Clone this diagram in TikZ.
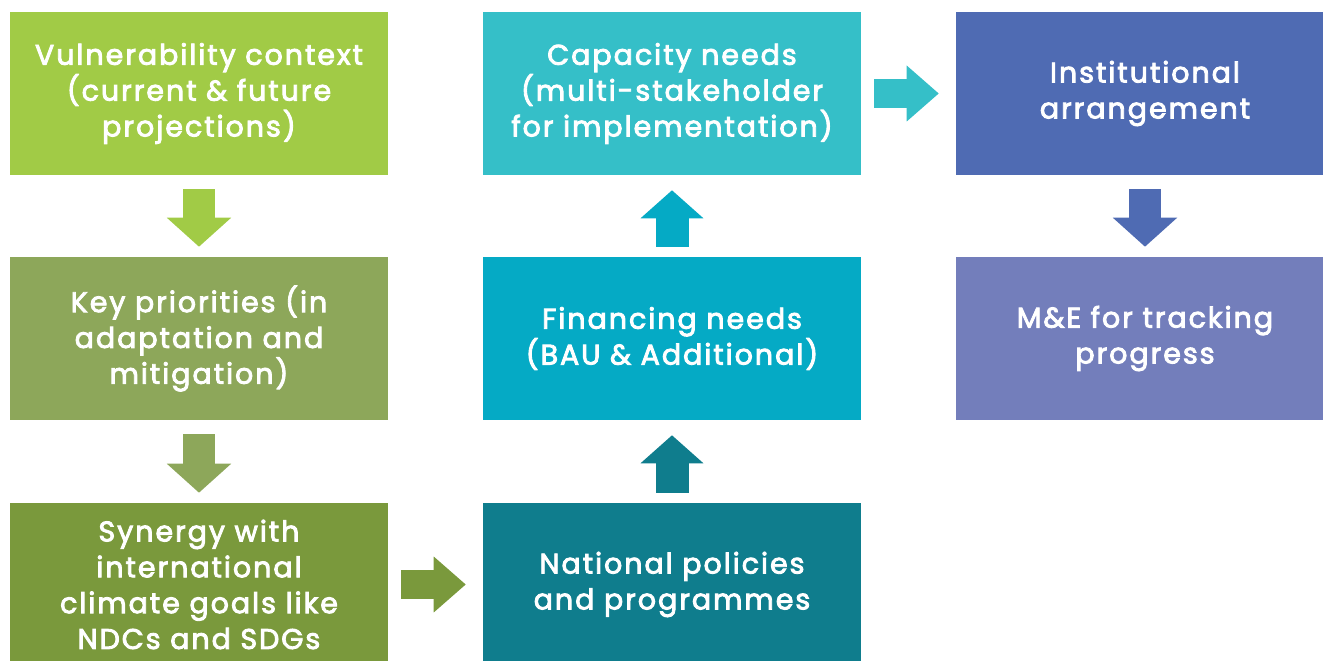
\documentclass[tikz,border=0pt]{standalone}
\usepackage{fontspec}
\newfontfamily\boxfont{Poppins}[FakeBold=3,LetterSpace=7]
\usepackage{xcolor}
\usepackage{tikz}
\usetikzlibrary{arrows.meta}

\definecolor{vulngreen}{HTML}{A1CB46}
\definecolor{prioritygreen}{HTML}{8DA75A}
\definecolor{synergygreen}{HTML}{7A993C}
\definecolor{capacityteal}{HTML}{35BFC8}
\definecolor{financeteal}{HTML}{05AAC5}
\definecolor{policyteal}{HTML}{0F7D8D}
\definecolor{institutionblue}{HTML}{4F6BB3}
\definecolor{trackingblue}{HTML}{737EBB}

\begin{document}
\begin{tikzpicture}[x=0.02cm,y=-0.02cm,
  box/.style={fill=#1, text=white, minimum width=7.56cm, minimum height=3.26cm,
    inner sep=0pt, align=center, font=\boxfont\fontsize{16.2}{20.4}\selectfont},
  downflow/.style={draw=#1, line width=0.65cm, shorten <=0.28cm, shorten >=0.2cm,
    -{Triangle[length=0.58cm,width=1.29cm,line width=0pt]}},
  upflow/.style={draw=#1, line width=0.66cm, shorten <=0.2cm, shorten >=0.3cm,
    -{Triangle[length=0.56cm,width=1.26cm,line width=0pt]}},
  rightflow/.style={draw=#1, line width=0.58cm, shorten <=0.26cm, shorten >=0.34cm,
    -{Triangle[length=0.64cm,width=1.12cm,line width=0pt]}}]

\useasboundingbox (0,0) rectangle (1323,661);

% left column
\node[box=vulngreen] (vuln) at (199,93.5) {Vulnerability context\\(current \& future\\projections)};
\node[box=prioritygreen] (prio) at (199,338.5) {Key priorities (in\\adaptation and\\mitigation)};
\node[box=synergygreen] (syn) at (199,584.5) {Synergy with\\international\\climate goals like\\NDCs and SDGs};

% middle column
\node[box=capacityteal] (cap) at (672,93.5) {Capacity needs\\(multi-stakeholder\\for implementation)};
\node[box=financeteal] (fin) at (672,338.5) {Financing needs\\(BAU \& Additional)};
\node[box=policyteal] (pol) at (672,584.5) {National policies\\and programmes};

% right column
\node[box=institutionblue] (inst) at (1145,93.5) {Institutional\\arrangement};
\node[box=trackingblue] (track) at (1145,338.5) {M\&E for tracking\\progress};

\draw[downflow=vulngreen] (vuln.south) -- (prio.north);
\draw[downflow=prioritygreen] (prio.south) -- (syn.north);
\draw[rightflow=synergygreen] (syn.east) -- (pol.west);
\draw[upflow=policyteal] (pol.north) -- (fin.south);
\draw[upflow=financeteal] (fin.north) -- (cap.south);
\draw[rightflow=capacityteal] (cap.east) -- (inst.west);
\draw[downflow=institutionblue] (inst.south) -- (track.north);

\end{tikzpicture}
\end{document}
